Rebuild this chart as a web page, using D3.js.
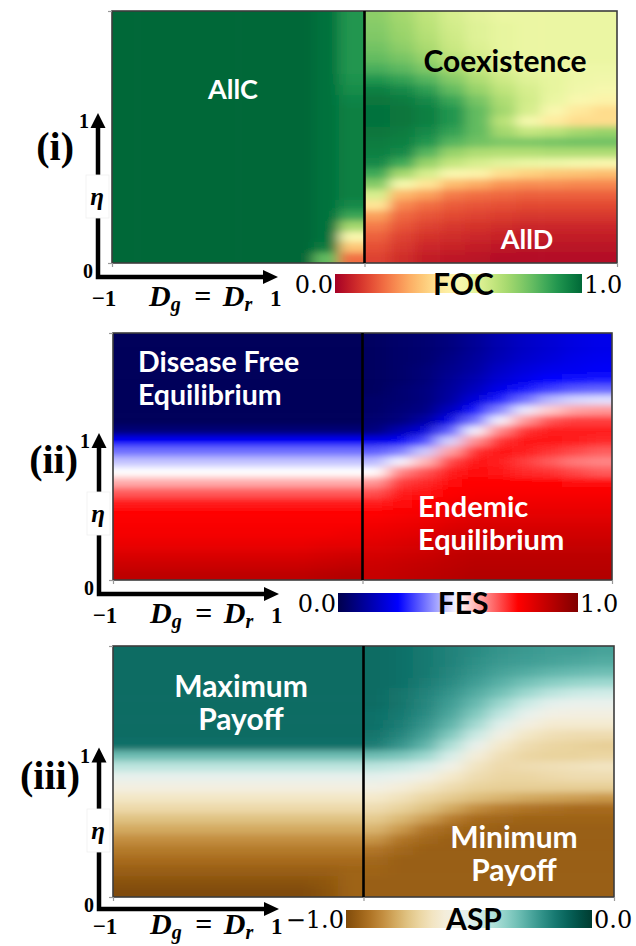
<!DOCTYPE html>
<html>
<head>
<meta charset="utf-8">
<script src="https://cdn.jsdelivr.net/npm/d3@7"></script>
<style>
  body { margin: 0; background: #fff; }
  svg text { font-kerning: normal; }
</style>
</head>
<body>
<svg id="fig" width="636" height="946"></svg>
<script>
// Grid coordinates: column centres in D_g = D_r, row centres in eta (top row first)
const dValues = [-0.95, -0.85, -0.75, -0.65, -0.55, -0.45, -0.35, -0.25, -0.15, -0.05,
                  0.05,  0.15,  0.25,  0.35,  0.45,  0.55,  0.65,  0.75,  0.85,  0.95];
const etaValues = [1.645, 1.575, 1.505, 1.435, 1.365, 1.295, 1.225, 1.155, 1.085, 1.015,
                   0.945, 0.875, 0.805, 0.735, 0.665, 0.595, 0.525, 0.455, 0.385, 0.315,
                   0.245, 0.175, 0.105, 0.035];
const ETA_MAX = 1.68;

// Fraction of cooperators
const focGrid = [
  [1,1,1,1,1,1,1,1,.98,.90, .74,.70,.65,.60,.57,.55,.55,.55,.55,.55],
  [1,1,1,1,1,1,1,1,.98,.90, .75,.71,.66,.61,.58,.56,.55,.55,.55,.55],
  [1,1,1,1,1,1,1,1,.98,.90, .76,.72,.67,.62,.58,.56,.55,.55,.55,.55],
  [1,1,1,1,1,1,1,1,.98,.90, .78,.74,.69,.63,.59,.56,.55,.55,.55,.55],
  [1,1,1,1,1,1,1,1,.98,.90, .80,.77,.72,.66,.61,.57,.55,.55,.55,.55],
  [1,1,1,1,1,1,1,1,.98,.90, .84,.81,.76,.70,.64,.59,.56,.55,.54,.54],
  [1,1,1,1,1,1,1,1,.98,.91, .90,.87,.82,.75,.68,.62,.58,.56,.54,.53],
  [1,1,1,1,1,1,1,1,.98,.92, .95,.93,.88,.80,.72,.65,.60,.56,.53,.51],
  [1,1,1,1,1,1,1,1,.98,.94, .97,.96,.93,.86,.77,.68,.61,.55,.50,.47],
  [1,1,1,1,1,1,1,1,.98,.95, .98,.97,.95,.90,.80,.70,.60,.50,.43,.40],
  [1,1,1,1,1,1,1,1,.98,.95, .98,.97,.95,.90,.80,.66,.52,.44,.40,.40],
  [1,1,1,1,1,1,1,1,.98,.95, .97,.96,.93,.87,.80,.70,.64,.66,.70,.72],
  [1,1,1,1,1,1,1,1,.98,.95, .96,.95,.90,.82,.78,.76,.76,.77,.78,.78],
  [1,1,1,1,1,1,1,1,.98,.95, .95,.93,.82,.72,.68,.67,.67,.68,.68,.68],
  [1,1,1,1,1,1,1,1,.98,.95, .93,.85,.72,.64,.60,.57,.55,.54,.52,.50],
  [1,1,1,1,1,1,1,1,.98,.95, .85,.70,.60,.50,.47,.40,.37,.35,.34,.33],
  [1,1,1,1,1,1,1,1,.98,.95, .75,.52,.42,.33,.30,.26,.25,.25,.24,.24],
  [1,1,1,1,1,1,1,1,.98,.95, .60,.32,.28,.22,.20,.19,.18,.18,.18,.18],
  [1,1,1,1,1,1,1,1,.98,.93, .42,.24,.20,.17,.16,.15,.14,.14,.14,.14],
  [1,1,1,1,1,1,1,1,.98,.86, .28,.19,.16,.14,.13,.12,.11,.11,.11,.11],
  [1,1,1,1,1,1,1,1,.98,.70, .22,.16,.13,.11,.10,.09,.08,.08,.08,.08],
  [1,1,1,1,1,1,1,1,.98,.50, .18,.13,.10,.09,.08,.07,.06,.06,.06,.06],
  [1,1,1,1,1,1,1,1,.96,.35, .15,.11,.08,.07,.06,.05,.04,.04,.04,.04],
  [1,1,1,1,1,1,1,1,.80,.20, .13,.09,.06,.05,.04,.03,.03,.03,.03,.03]
];

// Fraction of endemic states
const fesGrid = [
  [.02,.02,.02,.02,.02,.02,.02,.02,.02,.02, .03,.04,.05,.07,.10,.14,.17,.19,.21,.22],
  [.02,.02,.02,.02,.02,.02,.02,.02,.02,.02, .03,.04,.05,.07,.10,.14,.17,.19,.21,.22],
  [.02,.02,.02,.02,.02,.02,.02,.02,.02,.02, .03,.04,.05,.08,.11,.15,.18,.20,.22,.23],
  [.02,.02,.02,.02,.02,.02,.02,.02,.02,.02, .03,.04,.06,.09,.12,.17,.20,.22,.23,.24],
  [.02,.02,.02,.02,.02,.02,.02,.02,.02,.02, .03,.04,.06,.10,.14,.19,.22,.25,.26,.27],
  [.02,.02,.02,.02,.02,.02,.02,.02,.02,.02, .03,.05,.07,.11,.16,.22,.27,.31,.34,.35],
  [.02,.02,.02,.02,.02,.02,.02,.02,.02,.02, .04,.05,.07,.12,.20,.28,.36,.43,.46,.47],
  [.02,.02,.02,.02,.02,.02,.02,.02,.02,.02, .04,.06,.08,.16,.26,.38,.48,.55,.59,.60],
  [.02,.02,.02,.02,.02,.02,.02,.02,.02,.02, .05,.07,.12,.22,.36,.49,.60,.67,.69,.69],
  [.06,.06,.06,.06,.06,.06,.06,.06,.06,.06, .07,.14,.20,.34,.49,.62,.70,.72,.72,.72],
  [.24,.24,.24,.24,.24,.24,.24,.24,.24,.24, .22,.24,.32,.46,.61,.70,.73,.73,.72,.71],
  [.36,.36,.36,.36,.36,.36,.36,.36,.36,.36, .34,.37,.45,.59,.70,.73,.72,.70,.68,.66],
  [.44,.44,.44,.44,.44,.44,.44,.44,.44,.44, .43,.49,.57,.68,.73,.72,.69,.66,.63,.62],
  [.50,.50,.50,.50,.50,.50,.50,.50,.50,.50, .50,.62,.67,.72,.74,.73,.71,.70,.68,.66],
  [.58,.58,.58,.58,.58,.58,.58,.58,.58,.58, .60,.69,.71,.74,.75,.75,.75,.75,.74,.74],
  [.66,.66,.66,.66,.66,.66,.66,.66,.66,.66, .67,.72,.73,.75,.76,.76,.76,.76,.76,.76],
  [.72,.72,.72,.72,.72,.72,.72,.72,.72,.72, .72,.74,.75,.77,.78,.78,.78,.78,.78,.78],
  [.75,.75,.75,.75,.75,.75,.75,.75,.75,.75, .75,.76,.77,.79,.80,.80,.80,.80,.80,.80],
  [.76,.76,.76,.76,.76,.76,.76,.76,.76,.76, .77,.78,.79,.81,.82,.82,.82,.82,.82,.82],
  [.77,.77,.77,.77,.77,.77,.77,.77,.77,.78, .79,.80,.81,.83,.84,.84,.84,.84,.84,.84],
  [.79,.79,.79,.79,.79,.79,.79,.79,.80,.80, .81,.82,.83,.85,.86,.86,.86,.86,.86,.86],
  [.82,.82,.82,.82,.82,.82,.82,.82,.83,.84, .83,.84,.85,.87,.88,.88,.88,.88,.88,.88],
  [.85,.85,.85,.85,.85,.85,.85,.85,.86,.87, .85,.86,.87,.88,.89,.89,.89,.89,.89,.89],
  [.88,.88,.88,.88,.88,.88,.88,.88,.89,.90, .86,.87,.88,.89,.90,.90,.90,.90,.90,.90]
];

// Average social payoff
const aspGrid = [
  [-.12,-.12,-.12,-.12,-.12,-.12,-.12,-.12,-.12,-.12, -.12,-.13,-.15,-.17,-.19,-.21,-.22,-.23,-.23,-.24],
  [-.12,-.12,-.12,-.12,-.12,-.12,-.12,-.12,-.12,-.12, -.12,-.13,-.15,-.17,-.20,-.22,-.23,-.24,-.25,-.26],
  [-.12,-.12,-.12,-.12,-.12,-.12,-.12,-.12,-.12,-.12, -.12,-.13,-.15,-.18,-.21,-.24,-.26,-.28,-.29,-.30],
  [-.12,-.12,-.12,-.12,-.12,-.12,-.12,-.12,-.12,-.12, -.12,-.13,-.16,-.19,-.23,-.27,-.31,-.34,-.36,-.37],
  [-.12,-.12,-.12,-.12,-.12,-.12,-.12,-.12,-.12,-.12, -.12,-.14,-.17,-.21,-.26,-.31,-.37,-.42,-.45,-.46],
  [-.12,-.12,-.12,-.12,-.12,-.12,-.12,-.12,-.12,-.12, -.12,-.14,-.18,-.23,-.29,-.37,-.45,-.51,-.53,-.53],
  [-.12,-.12,-.12,-.12,-.12,-.12,-.12,-.12,-.12,-.12, -.13,-.15,-.19,-.25,-.33,-.43,-.52,-.57,-.58,-.58],
  [-.12,-.12,-.12,-.12,-.12,-.12,-.12,-.12,-.12,-.12, -.13,-.16,-.21,-.28,-.38,-.50,-.58,-.62,-.62,-.62],
  [-.12,-.12,-.12,-.12,-.12,-.12,-.12,-.12,-.12,-.12, -.14,-.18,-.24,-.33,-.45,-.57,-.64,-.67,-.68,-.68],
  [-.13,-.13,-.13,-.13,-.13,-.13,-.13,-.13,-.13,-.13, -.16,-.21,-.28,-.40,-.53,-.63,-.68,-.70,-.71,-.72],
  [-.30,-.30,-.30,-.30,-.30,-.30,-.30,-.30,-.30,-.30, -.30,-.32,-.37,-.48,-.60,-.67,-.70,-.71,-.71,-.70],
  [-.42,-.42,-.42,-.42,-.42,-.42,-.42,-.42,-.42,-.42, -.42,-.44,-.48,-.56,-.65,-.69,-.68,-.67,-.66,-.65],
  [-.52,-.52,-.52,-.52,-.52,-.52,-.52,-.52,-.52,-.52, -.51,-.53,-.57,-.63,-.68,-.70,-.70,-.69,-.68,-.68],
  [-.58,-.58,-.58,-.58,-.58,-.58,-.58,-.58,-.58,-.58, -.57,-.60,-.64,-.68,-.71,-.72,-.72,-.72,-.72,-.72],
  [-.64,-.64,-.64,-.64,-.64,-.64,-.64,-.64,-.64,-.64, -.63,-.66,-.70,-.73,-.76,-.78,-.80,-.81,-.82,-.83],
  [-.69,-.69,-.69,-.69,-.69,-.69,-.69,-.69,-.69,-.69, -.68,-.71,-.75,-.80,-.85,-.88,-.90,-.91,-.92,-.92],
  [-.75,-.75,-.75,-.75,-.75,-.75,-.75,-.75,-.75,-.75, -.73,-.77,-.82,-.88,-.92,-.93,-.94,-.94,-.94,-.94],
  [-.80,-.80,-.80,-.80,-.80,-.80,-.80,-.80,-.80,-.80, -.78,-.83,-.90,-.93,-.94,-.95,-.95,-.95,-.95,-.95],
  [-.85,-.85,-.85,-.85,-.85,-.85,-.85,-.85,-.85,-.85, -.84,-.90,-.93,-.95,-.95,-.95,-.95,-.95,-.95,-.95],
  [-.89,-.89,-.89,-.89,-.89,-.89,-.89,-.89,-.89,-.89, -.90,-.93,-.95,-.95,-.95,-.95,-.95,-.95,-.95,-.95],
  [-.92,-.92,-.92,-.92,-.92,-.92,-.92,-.92,-.92,-.92, -.93,-.95,-.95,-.95,-.95,-.95,-.95,-.95,-.95,-.95],
  [-.95,-.95,-.95,-.95,-.95,-.95,-.95,-.95,-.95,-.94, -.94,-.95,-.95,-.95,-.95,-.95,-.95,-.95,-.95,-.95],
  [-.98,-.98,-.98,-.98,-.98,-.98,-.98,-.98,-.97,-.94, -.95,-.95,-.95,-.95,-.95,-.95,-.95,-.95,-.95,-.95],
  [-1,-1,-1,-1,-1,-1,-1,-1,-.98,-.94, -.95,-.95,-.95,-.95,-.95,-.95,-.95,-.95,-.95,-.95]
];

// Colour-bar names and end labels
const barNames = ["FOC", "FES", "ASP"];
const barDomains = [[0, 1], [0, 1], [-1, 0]];
const barTickLabels = [["0.0", "1.0"], ["0.0", "1.0"], ["\u22121.0", "0.0"]];
const panelNames = ["(i)", "(ii)", "(iii)"];
const regionLabels = [
  [{lines: ["AllC"], fill: "#fff", size: 27}, {lines: ["Coexistence"], fill: "#000", size: 30}, {lines: ["AllD"], fill: "#fff", size: 27}],
  [{lines: ["Disease Free", "Equilibrium"], fill: "#fff", size: 28.5}, {lines: ["Endemic", "Equilibrium"], fill: "#fff", size: 29}],
  [{lines: ["Maximum", "Payoff"], fill: "#fff", size: 30}, {lines: ["Minimum", "Payoff"], fill: "#fff", size: 30}]
];

// Colour maps
const focColor = d3.scaleSequential(d3.interpolateRdYlGn).domain([0, 1]);
const fesColor = d3.scaleLinear()
  .domain([0, 0.25, 0.5, 0.75, 1])
  .range(["#00004c", "#0000ff", "#ffffff", "#ff0000", "#800000"])
  .interpolate(d3.interpolateRgb);
const aspColor = d3.scaleSequential(t => d3.interpolateBrBG(0.08 + 0.92 * t)).domain([-1, 0]);
const colorMaps = [focColor, fesColor, aspColor];
const grids = [focGrid, fesGrid, aspGrid];

// Layout of the three stacked panels
const layout = [
  {box: {l: 112, r: 617, t: 11, b: 263}, blur: "6.5 3.2", arrowGap: 14, textGap: 29, bar: {x0: 335, x1: 582, y: 274, h: 19}, nameX: 74, nameY: 160,
   labelPos: [{x: 233, y: 99, anchor: "middle"}, {x: 505, y: 72, anchor: "middle"}, {x: 527, y: 249, anchor: "middle"}]},
  {box: {l: 113, r: 612, t: 333, b: 580}, blur: "9 3.3", arrowGap: 14, textGap: 29, bar: {x0: 338, x1: 578, y: 593, h: 19}, nameX: 78, nameY: 473,
   labelPos: [{x: 138, y: 372, anchor: "start"}, {x: 418, y: 517, anchor: "start"}]},
  {box: {l: 113, r: 614, t: 646, b: 897}, blur: "9 3.3", arrowGap: 12, textGap: 25, bar: {x0: 346, x1: 592, y: 910, h: 18}, nameX: 80, nameY: 789,
   labelPos: [{x: 241, y: 697, anchor: "middle"}, {x: 514, y: 848, anchor: "middle"}]}
];

const svg = d3.select("#fig");
const defs = svg.append("defs");
const SERIF = "'Liberation Serif', 'Times New Roman', serif";
const SANS = "Lato, 'Open Sans', sans-serif";
// the D < 0 and D > 0 halves are smoothed separately, as they meet at the centre line
const halves = [[0, 9], [10, 19]];

layout.forEach((p, k) => {
  const {l, r, t, b} = p.box;
  const color = colorMaps[k];
  const grid = grids[k];

  const x = d3.scaleBand().domain(dValues).range([l, r]);
  const y = d3.scaleBand().domain(etaValues).range([t, b]);
  const xLin = d3.scaleLinear().domain([-1, 1]).range([l, r]);
  const yLin = d3.scaleLinear().domain([0, ETA_MAX]).range([b, t]);

  defs.append("filter").attr("id", "soft" + k)
    .attr("filterUnits", "userSpaceOnUse")
    .attr("x", l - 60).attr("y", t - 60).attr("width", r - l + 120).attr("height", b - t + 120)
    .append("feGaussianBlur").attr("stdDeviation", p.blur);

  const PAD = 40, nR = etaValues.length - 1;
  halves.forEach(([j0, j1], h) => {
    const cx0 = x(dValues[j0]), cx1 = x(dValues[j1]) + x.bandwidth();
    const cid = `clip${k}_${h}`;
    defs.append("clipPath").attr("id", cid)
      .append("rect").attr("x", cx0).attr("y", t).attr("width", cx1 - cx0).attr("height", b - t);
    const cells = [];
    grid.forEach((row, i) => row.forEach((v, j) => { if (j >= j0 && j <= j1) cells.push({i, j, v}); }));
    svg.append("g").attr("clip-path", `url(#${cid})`)
      .append("g").attr("filter", `url(#soft${k})`)
      .selectAll("rect").data(cells).join("rect")
      .attr("x", d => x(dValues[d.j]) - (d.j === j0 ? PAD : 0))
      .attr("y", d => y(etaValues[d.i]) - (d.i === 0 ? PAD : 0))
      .attr("width", d => x.bandwidth() + 0.6 + (d.j === j0 ? PAD : 0) + (d.j === j1 ? PAD : 0))
      .attr("height", d => y.bandwidth() + 0.6 + (d.i === 0 ? PAD : 0) + (d.i === nR ? PAD : 0))
      .attr("fill", d => color(d.v));
  });

  // frame, centre line and small ticks
  svg.append("rect").attr("x", l).attr("y", t).attr("width", r - l).attr("height", b - t)
    .attr("fill", "none").attr("stroke", "#3c3c3c").attr("stroke-width", 1.6);
  svg.append("line").attr("x1", xLin(0)).attr("x2", xLin(0)).attr("y1", t).attr("y2", b)
    .attr("stroke", "#000").attr("stroke-width", 2.6);
  const ax = svg.append("g").attr("transform", `translate(0,${b})`)
    .call(d3.axisBottom(xLin).tickValues([-1, 0, 1]).tickSize(4).tickFormat(""));
  const ay = svg.append("g").attr("transform", `translate(${l},0)`)
    .call(d3.axisLeft(yLin).tickValues([0, ETA_MAX]).tickSize(4).tickFormat(""));
  [ax, ay].forEach(a => {
    a.select(".domain").remove();
    a.selectAll("line").attr("stroke", "#999").attr("stroke-width", 1.2);
  });

  // schematic axis arrows
  const axX = l - 14, axY = b + p.arrowGap, tipY = yLin(1), tipX = l + 166;
  svg.append("path")
    .attr("d", `M${axX},${tipY + 12} L${axX},${axY} L${tipX - 12},${axY}`)
    .attr("fill", "none").attr("stroke", "#000").attr("stroke-width", 4.5).attr("stroke-linejoin", "miter");
  svg.append("path").attr("d", `M${axX},${tipY} L${axX - 7.5},${tipY + 15} L${axX + 7.5},${tipY + 15} Z`).attr("fill", "#000");
  svg.append("path").attr("d", `M${tipX},${axY} L${tipX - 15},${axY - 7} L${tipX - 15},${axY + 7} Z`).attr("fill", "#000");

  // eta label sitting on a white patch over the vertical arrow
  const etaY = b - 66;
  svg.append("rect").attr("x", axX - 12).attr("y", etaY - 22).attr("width", 23).attr("height", 43)
    .attr("fill", "#fff").attr("stroke", "#f0f0f0").attr("stroke-width", 0.8);
  svg.append("text").attr("x", axX - 1).attr("y", etaY + 8).attr("text-anchor", "middle")
    .attr("font-family", SERIF).attr("font-weight", "bold").attr("font-style", "italic")
    .attr("font-size", 25).text("\u03b7");

  const small = (txt, xx, yy, anchor) => svg.append("text").attr("x", xx).attr("y", yy)
    .attr("text-anchor", anchor).attr("font-family", SERIF).attr("font-weight", "bold")
    .attr("font-size", 20).text(txt);
  small("1", axX - 9, tipY + 15, "end");
  small("0", axX - 5, b + 15, "end");
  const baseY = axY + p.textGap;
  small("\u22121", axX + 6, baseY, "middle").attr("font-size", 23);
  small("1", tipX - 8, baseY, "start").attr("font-size", 23);

  // D_g = D_r
  const dl = svg.append("text").attr("x", axX + 51).attr("y", baseY)
    .attr("font-family", SERIF).attr("font-weight", "bold").attr("font-size", 30);
  dl.append("tspan").attr("font-style", "italic").text("D");
  dl.append("tspan").attr("font-style", "italic").attr("font-size", 20).attr("dy", 5).text("g");
  dl.append("tspan").attr("dy", -5).attr("dx", 6).text(" = ");
  dl.append("tspan").attr("dx", 4).attr("font-style", "italic").text("D");
  dl.append("tspan").attr("font-style", "italic").attr("font-size", 20).attr("dy", 5).text("r");

  // panel name
  svg.append("text").attr("x", p.nameX).attr("y", p.nameY).attr("text-anchor", "end")
    .attr("font-family", SERIF).attr("font-weight", "bold").attr("font-size", 40).text(panelNames[k]);

  // region labels
  regionLabels[k].forEach((lab, q) => {
    const pos = p.labelPos[q];
    const tx = svg.append("text").attr("x", pos.x).attr("y", pos.y).attr("text-anchor", pos.anchor)
      .attr("font-family", SANS).attr("font-weight", "bold").attr("font-size", lab.size).attr("fill", lab.fill);
    lab.lines.forEach((ln, n) => tx.append("tspan").attr("x", pos.x).attr("dy", n === 0 ? 0 : 33).text(ln));
  });

  // colour bar
  const dom = barDomains[k];
  const gid = "grad" + k;
  const grad = defs.append("linearGradient").attr("id", gid);
  d3.range(0, 1.0001, 0.05).forEach(f => grad.append("stop")
    .attr("offset", f).attr("stop-color", color(dom[0] + f * (dom[1] - dom[0]))));
  const bs = d3.scaleLinear().domain(dom).range([p.bar.x0, p.bar.x1]);
  svg.append("rect").attr("x", bs(dom[0])).attr("y", p.bar.y).attr("width", bs(dom[1]) - bs(dom[0]))
    .attr("height", p.bar.h).attr("fill", `url(#${gid})`);
  const tl = barTickLabels[k];
  svg.append("text").attr("x", bs(dom[0]) - 2).attr("y", p.bar.y + p.bar.h)
    .attr("text-anchor", "end").attr("font-family", "'DejaVu Serif', serif").attr("font-size", 24).text(tl[0]);
  svg.append("text").attr("x", bs(dom[1]) + 2).attr("y", p.bar.y + p.bar.h)
    .attr("text-anchor", "start").attr("font-family", "'DejaVu Serif', serif").attr("font-size", 24).text(tl[1]);
  svg.append("text").attr("x", (p.bar.x0 + p.bar.x1) / 2 + 5).attr("y", p.bar.y + p.bar.h + 2)
    .attr("text-anchor", "middle").attr("font-family", SANS).attr("font-weight", "bold")
    .attr("font-size", 30).attr("fill", "#000").text(barNames[k]);
});
</script>
</body>
</html>
